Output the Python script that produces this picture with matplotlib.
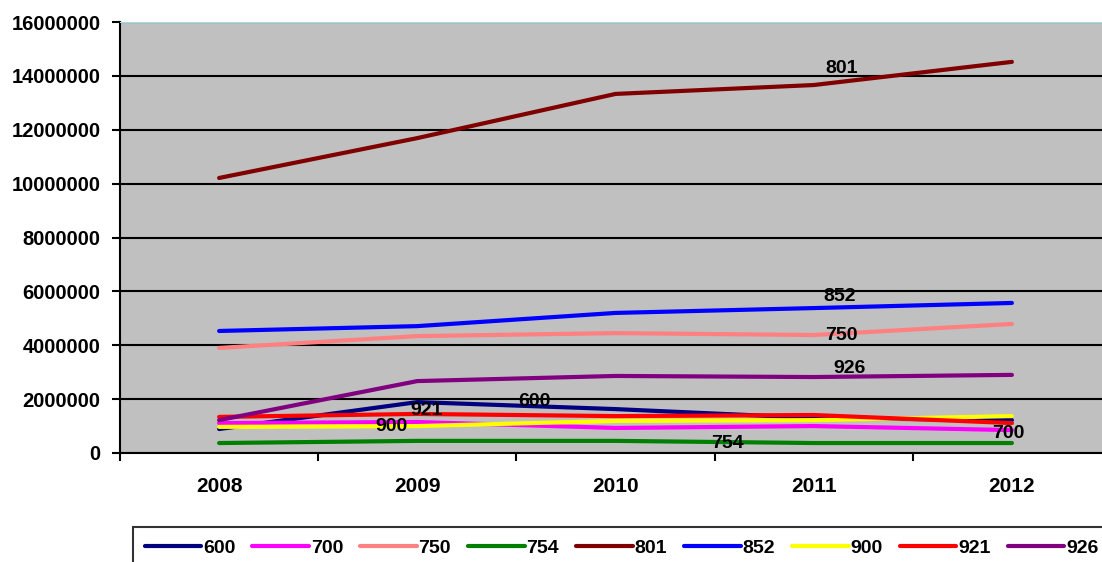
import matplotlib.pyplot as plt
import matplotlib.ticker as mticker
import numpy as np

plt.rcParams['font.family'] = ['Liberation Sans', 'DejaVu Sans']
plt.rcParams['font.weight'] = 'bold'

# Années
annees = ['2008', '2009', '2010', '2011', '2012']

# Séries
s600 = [890000, 1890000, 1630000, 1300000, 1220000]
s700 = [1110000, 1150000, 930000, 1000000, 850000]
s750 = [3900000, 4340000, 4450000, 4380000, 4790000]
s754 = [370000, 450000, 450000, 370000, 370000]
s801 = [10210000, 11690000, 13330000, 13660000, 14520000]
s852 = [4530000, 4710000, 5200000, 5380000, 5570000]
s900 = [970000, 1000000, 1190000, 1220000, 1370000]
s921 = [1340000, 1450000, 1370000, 1410000, 1110000]
s926 = [1220000, 2670000, 2860000, 2820000, 2900000]

noms = ['600', '700', '750', '754', '801', '852', '900', '921', '926']
series = [s600, s700, s750, s754, s801, s852, s900, s921, s926]
couleurs = ['#000080', '#FF00FF', '#FF8080', '#008000', '#800000',
            '#0000FF', '#FFFF00', '#FF0000', '#800080']

# Position des étiquettes : (indice de l'année, décalage x, décalage y en pixels)
etiquettes = {
    '801': (3, 28, 17), '852': (3, 26, 12), '750': (3, 28, 0), '926': (3, 36, 9),
    '600': (2, -81, 8), '921': (1, 9, 3), '900': (1, -26, 0),
    '754': (2, 112, -3), '700': (4, -4, -3),
}

fig = plt.figure(figsize=(11.02, 5.62), dpi=100)
ax = fig.add_axes([120 / 1102, 109 / 562, 991 / 1102, 431 / 562])
ax.set_facecolor('#C0C0C0')

x = np.arange(len(annees))
for nom, s, c in zip(noms, series, couleurs):
    ax.plot(x, s, color=c, linewidth=3, label=nom, solid_capstyle='round')

for nom, s in zip(noms, series):
    i, dx, dy = etiquettes[nom]
    ax.annotate(nom, (i, s[i]), xytext=(dx * 0.72, dy * 0.72),
                textcoords='offset points', ha='center', va='center',
                fontsize=14, fontweight='bold')

ax.set_xlim(-0.5, 4.5)
ax.set_ylim(0, 16000000)
ax.set_yticks(np.arange(0, 16000001, 2000000))
ax.yaxis.set_major_formatter(mticker.FuncFormatter(lambda v, p: '%d' % v))
ax.yaxis.grid(True, color='black', linewidth=1.5)
ax.set_axisbelow(True)
ax.set_xticks(x)
ax.set_xticklabels(annees, fontsize=15, fontweight='bold')
ax.set_xticks(np.arange(-0.5, 5, 1), minor=True)
ax.tick_params(axis='x', which='major', length=0, pad=17)
ax.tick_params(axis='x', which='minor', length=6, width=1.5, direction='out')
ax.tick_params(axis='y', length=6, width=1.5, labelsize=14.5, pad=8)
for lab in ax.get_yticklabels():
    lab.set_fontweight('bold')
ax.spines['top'].set_color('#A0E0E0')
ax.spines['right'].set_visible(False)
ax.spines['left'].set_linewidth(1.5)
ax.spines['bottom'].set_linewidth(1.5)

leg = fig.legend(loc='upper left',
                 bbox_to_anchor=(133 / 1102, 1 - 528 / 562, 977 / 1102, 0.001),
                 mode='expand', ncol=9, frameon=True, fancybox=False,
                 edgecolor='black', handlelength=2.9, columnspacing=0.4,
                 handletextpad=0.1, prop={'weight': 'bold', 'size': 14},
                 borderpad=0.6, borderaxespad=0)
leg.get_frame().set_linewidth(1.5)
for ligne in leg.get_lines():
    ligne.set_linewidth(3)

fig.savefig('out.png', dpi=100)
